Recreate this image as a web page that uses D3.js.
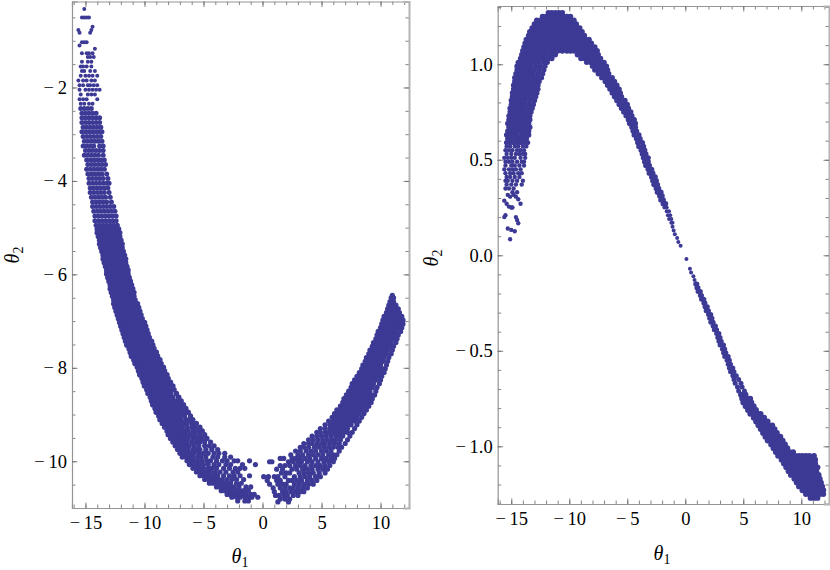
<!DOCTYPE html>
<html>
<head>
<meta charset="utf-8">
<script src="https://cdn.jsdelivr.net/npm/d3@7"></script>
<style>
  html, body { margin: 0; padding: 0; background: #fff; }
  text { font-family: "Liberation Serif", serif; fill: #000; }
</style>
</head>
<body>
<div id="chart"></div>
<script>
// Values. Each row is [theta2, theta1, theta1, ...]
var leftMajorX = [-15, -10, -5, 0, 5, 10];
var leftMajorY = [-2, -4, -6, -8, -10];
var rightMajorX = [-15, -10, -5, 0, 5, 10];
var rightMajorY = [1, 0.5, 0, -0.5, -1];

var leftTip = [
[-0.32,-15.1],[-0.5,-15.3,-15.1,-14.9,-14.7],[-0.7,-14.4],[-0.77,-15.6,-14.5],[-0.83,-15.5,-14.6],
[-1.03,-15.3,-15.1,-14.9],[-1.1,-15.5],[-1.17,-14.2],[-1.27,-15.3,-14.9,-14.7,-14.4],[-1.35,-14.8,-14.6,-14.3],
[-1.45,-15.3,-14.8,-14.5],[-1.55,-15.4,-15.2,-14.9,-14.5],[-1.65,-15.3,-15.1,-14.6,-14.2],[-1.75,-15.4,-15,-14.7,-14.4,-14],
[-1.85,-15.6,-15.2,-14.9,-14.5,-14.2],[-1.95,-15.5,-15.2,-14.8,-14.6,-14.3,-14],[-2.05,-15.5,-15,-14.7,-14.4,-14.1,-13.8],
[-2.15,-15.4,-14.8,-14.5,-14.2],[-2.25,-15.5,-15.2,-14.9,-14],[-2.35,-15.4,-15.1,-14.7,-14.4]
];
var leftUpper = [
[-2.45,-15.4,-15.1,-14.8,-14.5],[-2.55,-15.3,-15,-14.7,-14.4,-14.1],[-2.65,-15.3,-15,-14.7,-14.4,-14.1,-13.8],
[-2.75,-15.3,-15,-14.7,-14.4,-14.1,-13.8],[-2.85,-15.2,-14.9,-14.6,-14.3,-14,-13.7],[-2.95,-15.3,-15,-14.7,-14.4,-14.1,-13.8,-13.6],
[-3.05,-15.2,-14.9,-14.6,-14.3,-14,-13.7],[-3.15,-15.1,-14.8,-14.5,-14.2,-13.9,-13.6],[-3.25,-15.2,-14.9,-14.6,-14.3,-13.8,-13.5],
[-3.35,-15,-14.7,-14.4,-14.1,-13.8,-13.5],[-3.45,-15.1,-14.8,-14.5,-14.2,-13.9,-13.5],[-3.55,-14.9,-14.6,-14.3,-14,-13.7,-13.4],
[-3.65,-14.8,-14.5,-14.2,-13.9,-13.6,-13.3],[-3.75,-14.9,-14.6,-14.3,-14,-13.7,-13.4],[-3.85,-14.8,-14.5,-14.2,-13.9,-13.6,-13.2],
[-3.95,-14.7,-14.4,-14.1,-13.8,-13.5,-13.1],[-4.05,-14.7,-14.4,-14.1,-13.8,-13.5,-13.2,-13],[-4.15,-14.6,-14.3,-14,-13.7,-13.4,-13.1],
[-4.25,-14.6,-14.3,-14,-13.7,-13.4,-13],[-4.35,-14.5,-14.2,-13.9,-13.6,-13.3,-12.9],[-4.45,-14.4,-14.1,-13.8,-13.5,-13.2,-12.8],
[-4.55,-14.4,-14.1,-13.8,-13.5,-13.2,-12.9,-12.6],[-4.65,-14.3,-14,-13.7,-13.4,-13.1,-12.8,-12.5],[-4.75,-14.2,-13.9,-13.6,-13.3,-13,-12.7,-12.4],
[-4.85,-14.2,-13.9,-13.6,-13.3,-13,-12.7,-12.4],[-4.95,-14.1,-13.8,-13.5,-13.2,-12.9,-12.6,-12.3]
];
var leftMiddle = [
[-5.03,-14,-13.7,-13.4,-13.1,-12.8,-12.5,-12.2],
[-5.11,-14,-13.7,-13.4,-13.1,-12.8,-12.4,-12.1],[-5.19,-13.9,-13.6,-13.3,-13,-12.7,-12.4,-12.1],[-5.27,-13.8,-13.5,-13.2,-12.9,-12.6,-12.3,-12],
[-5.35,-13.8,-13.5,-13.2,-12.9,-12.6,-12.2,-11.9],[-5.43,-13.7,-13.4,-13.1,-12.8,-12.5,-12.2,-11.9],[-5.51,-13.6,-13.3,-13,-12.7,-12.4,-12.1,-11.8],
[-5.59,-13.5,-13.2,-12.9,-12.6,-12.3,-12,-11.7],[-5.67,-13.5,-13.2,-12.9,-12.6,-12.2,-11.9,-11.6],[-5.75,-13.4,-13.1,-12.8,-12.5,-12.2,-11.9,-11.6],
[-5.83,-13.3,-13,-12.7,-12.4,-12.1,-11.8,-11.5],[-5.91,-13.2,-12.9,-12.6,-12.3,-12,-11.7,-11.4],[-5.99,-13.2,-12.9,-12.6,-12.3,-12,-11.7,-11.4],
[-6.07,-13.1,-12.8,-12.5,-12.2,-11.9,-11.6,-11.3],[-6.15,-13,-12.7,-12.4,-12.1,-11.8,-11.5,-11.2],[-6.23,-12.9,-12.6,-12.3,-12,-11.7,-11.4,-11.1],
[-6.31,-12.9,-12.6,-12.3,-12,-11.7,-11.4,-11],[-6.39,-12.8,-12.5,-12.2,-11.9,-11.6,-11.3,-10.9],[-6.47,-12.7,-12.4,-12.1,-11.8,-11.5,-11.2,-10.9],
[-6.55,-12.6,-12.3,-12,-11.7,-11.4,-11.1,-10.8],[-6.63,-12.6,-12.3,-12,-11.7,-11.3,-11,-10.6],[-6.71,-12.5,-12.2,-11.9,-11.6,-11.3,-10.9,-10.5],
[-6.79,-12.4,-12.1,-11.8,-11.5,-11.2,-10.8,-10.4],[-6.87,-12.3,-12,-11.7,-11.4,-11.1,-10.7,-10.3],[-6.95,-12.2,-11.9,-11.6,-11.3,-11,-10.6,-10.2],
[-7.03,-12.1,-11.8,-11.5,-11.2,-10.9,-10.5,-10.1,-10],[-7.11,-12,-11.7,-11.4,-11.1,-10.8,-10.5,-10.2,-9.9],[-7.19,-11.9,-11.6,-11.3,-11,-10.7,-10.4,-10.1,-9.8],
[-7.27,-11.8,-11.5,-11.2,-10.9,-10.6,-10.3,-10,-9.7],[-7.35,-11.7,-11.4,-11.1,-10.8,-10.5,-10.2,-9.9,-9.6],[-7.43,-11.6,-11.3,-11,-10.7,-10.4,-10.1,-9.8,-9.4],
[-7.51,-11.5,-11.2,-10.9,-10.6,-10.3,-10,-9.7,-9.3],[-7.59,-11.3,-11,-10.7,-10.4,-10.1,-9.8,-9.5,-9.2],[-7.67,-11.2,-10.9,-10.6,-10.3,-10,-9.7,-9.4,-9],
[-7.75,-11.1,-10.8,-10.5,-10.2,-9.9,-9.6,-9.3,-8.9],[-7.83,-10.9,-10.6,-10.3,-10,-9.7,-9.4,-9.1,-8.7],[-7.91,-10.8,-10.5,-10.2,-9.9,-9.6,-9.3,-9,-8.6],
[-7.99,-10.6,-10.3,-10,-9.7,-9.4,-9.1,-8.8,-8.4],[-8.07,-10.5,-10.2,-9.9,-9.6,-9.3,-9,-8.6,-8.3],[-8.15,-10.4,-10.1,-9.8,-9.5,-9.2,-8.9,-8.5,-8.1],
[-8.23,-10.2,-9.9,-9.6,-9.3,-9,-8.7,-8.3,-8],[-8.31,-10.1,-9.8,-9.5,-9.2,-8.9,-8.6,-8.2,-7.8],[-8.39,-10,-9.7,-9.4,-9.1,-8.8,-8.4,-8,-7.6],
[-8.47,-9.8,-9.5,-9.2,-8.9,-8.6,-8.3,-7.9,-7.5],[-8.55,-9.7,-9.4,-9.1,-8.8,-8.5,-8.2,-7.8,-7.3],[-8.63,-9.5,-9.2,-8.9,-8.6,-8.3,-8,-7.6,-7.1],
[-8.71,-9.4,-9.1,-8.8,-8.5,-8.2,-7.9,-7.5,-7.2,-6.9],[-8.79,-9.3,-9,-8.7,-8.4,-8.1,-7.8,-7.4,-7,-6.7],[-8.87,-9.1,-8.8,-8.5,-8.2,-7.9,-7.6,-7.2,-6.9,-6.5],
[-8.95,-9,-8.7,-8.4,-8.1,-7.8,-7.5,-7.1,-6.7,-6.3]
];
var leftBottom = [
[-9.03,-8.8,-8.5,-8.2,-7.9,-7.6,-7.3,-7,-6.6,-6.1],[-9.11,-8.7,-8.4,-8.1,-7.8,-7.5,-7.2,-6.9,-6.5,-6.2,-5.9],[-9.19,-8.5,-8.2,-7.9,-7.6,-7.3,-7,-6.7,-6.4,-6,-5.6],
[-9.27,-8.3,-8,-7.7,-7.4,-7.1,-6.8,-6.4,-6,-5.7,-5.3],[-9.35,-8.1,-7.8,-7.5,-7.2,-6.9,-6.6,-6.3,-5.9,-5.5,-5.1],[-9.43,-8,-7.7,-7.4,-7.1,-6.8,-6.5,-6.1,-5.7,-5.3,-4.9],
[-9.51,-7.8,-7.5,-7.2,-6.9,-6.6,-6.3,-5.9,-5.5,-5.1,-4.7],[-9.59,-7.6,-7.3,-7,-6.7,-6.4,-6,-5.6,-5.3,-4.9,-4.4],[-9.67,-7.4,-7.1,-6.8,-6.5,-6.2,-5.8,-5.4,-4.9,-4.5,-4.1],
[-9.75,-7.2,-6.9,-6.6,-6.3,-5.9,-5.6,-5.3,-4.8,-4.3,-3.8],[-9.83,-7,-6.7,-6.4,-6.1,-5.8,-5.4,-5,-4.6,-4.1,-3.7,-3.2],[-9.91,-6.8,-6.5,-6.2,-5.9,-5.5,-5.2,-4.8,-4.2,-3.8,-3.2,-2.7],
[-9.99,-6.4,-6.1,-5.8,-5.5,-5.1,-4.7,-4.4,-3.9,-3.4,-3,-2.4,-2.1,-1.1],[-10.07,-6.2,-5.9,-5.6,-5.3,-5,-4.6,-4.1,-3.7,-3.1,-2.7,-1.7,-0.6],[-10.15,-5.9,-5.6,-5.3,-5,-4.6,-4.3,-3.9,-3.3,-2.8,-2.3,-1.9,-1.5],
[-10.23,-5.6,-5.3,-5,-4.7,-4.4,-4,-3.6,-3.1,-2.5,-2.1],[-10.31,-5.3,-5,-4.7,-4.4,-4.1,-3.8,-3.3,-2.8,-2.4,-1.9,-1.1],[-10.39,-4.9,-4.6,-4.3,-4,-3.7,-3.4,-3,-2.6,-2.2,-1.6],
[-10.47,-4.5,-4.2,-3.9,-3.6,-3.3,-3,-2.7,-2.2,-1.8],[-10.55,-3.9,-3.6,-3.3,-3,-2.7,-2.4,-2,-1.4,-1],[-10.63,-3.5,-3.2,-2.9,-2.6,-2.2,-1.9,-1.6,-1.2],
[-10.71,-3,-2.7,-2.4,-2.1,-1.7,-1.4,-1,-0.7],[-10.77,-2.6,-2.2,-1.9,-1.5,-1.1,-0.9,-0.4],[-10.85,-2.1,-1.5,-1.2]
];
var leftRightArm = [
[-6.45,11],[-6.5,10.9,11.1],[-6.58,10.8,11.1],[-6.66,10.7,11,11.3],[-6.74,10.6,10.9,11.2,11.5],[-6.82,10.5,10.8,11.1,11.4,11.6],[-6.9,10.3,10.6,10.9,11.2,11.5,11.8],
[-6.98,10.2,10.5,10.8,11.1,11.4,11.7,11.9],[-7.06,10.1,10.4,10.7,11,11.3,11.6,11.9],[-7.14,10,10.3,10.6,10.9,11.2,11.5,11.8],[-7.22,9.8,10.1,10.4,10.7,11,11.3,11.7],
[-7.3,9.7,10,10.3,10.6,10.9,11.2,11.5],[-7.38,9.6,9.9,10.2,10.5,10.8,11.1,11.4],[-7.46,9.4,9.7,10,10.3,10.6,10.9,11.3],[-7.54,9.3,9.6,9.9,10.2,10.5,10.8,11.1],
[-7.62,9.1,9.4,9.7,10,10.3,10.6,11],[-7.7,9,9.3,9.6,9.9,10.2,10.5,10.9],[-7.78,8.8,9.1,9.4,9.7,10,10.3,10.7],[-7.86,8.7,9,9.3,9.6,9.9,10.2,10.6],
[-7.94,8.5,8.8,9.1,9.4,9.7,10,10.5],[-8.02,8.4,8.7,9,9.3,9.6,9.9,10.2,10.4],[-8.1,8.2,8.5,8.8,9.1,9.4,9.7,10,10.3],[-8.18,8,8.3,8.6,8.9,9.2,9.5,9.8,10.1],
[-8.26,7.8,8.1,8.4,8.7,9,9.3,9.6,10],[-8.34,7.6,7.9,8.2,8.5,8.8,9.1,9.4,9.9],[-8.42,7.5,7.8,8.1,8.4,8.7,9,9.3,9.7],[-8.5,7.3,7.6,7.9,8.2,8.5,8.8,9.1,9.6],
[-8.58,7.1,7.4,7.7,8,8.3,8.6,8.9,9.2,9.5],[-8.66,6.9,7.2,7.5,7.8,8.1,8.4,8.7,9,9.3],[-8.74,6.8,7.1,7.4,7.7,8,8.3,8.6,8.9,9.2],[-8.82,6.6,6.9,7.2,7.5,7.8,8.1,8.4,8.7,9],
[-8.9,6.3,6.6,6.9,7.2,7.5,7.8,8.1,8.4,8.8],[-8.98,6.1,6.4,6.7,7,7.3,7.6,7.9,8.2,8.6],[-9.06,5.9,6.2,6.5,6.8,7.1,7.4,7.7,8,8.4],[-9.14,5.6,6,6.3,6.6,6.9,7.2,7.5,7.8,8.2],
[-9.22,5.3,5.7,6,6.3,6.6,6.9,7.2,7.5,8],[-9.3,4.9,5.3,5.7,6,6.3,6.6,6.9,7.2,7.8],[-9.38,4.6,4.9,5.3,5.6,6,6.3,6.6,6.9,7.2,7.6],[-9.46,4.2,4.6,5,5.4,5.8,6.2,6.5,6.8,7.4],
[-9.54,3.9,4.3,4.7,5.1,5.5,5.9,6.2,6.6,7.2],[-9.62,3.5,3.9,4.2,4.6,5,5.3,5.7,6.1,6.5,7],[-9.7,3.2,3.5,3.9,4.4,4.8,5.2,5.6,6,6.4,6.7],[-9.78,2.8,3.2,3.7,4.1,4.5,5,5.4,5.8,6.5],
[-9.86,2.4,3,3.4,3.9,4.3,4.7,5.1,5.6,6,6.3],[-9.94,1.5,1.8,2.5,2.8,3.2,3.6,4,4.5,5,5.4,5.8,6.1],[-10.01,0.6,0.8,2.2,2.6,3,3.3,3.8,4.2,4.7,5.2,5.6,6],[-10.09,1.5,1.9,2.3,2.8,3.2,3.6,4.1,4.5,4.9,5.3,5.7],
[-10.17,1.2,1.7,2.5,2.9,3.4,3.8,4.2,4.7,5.1,5.5],[-10.25,1.6,2,2.3,3.1,3.5,3.9,4.3,4.8,5.3],[-10.33,0.1,0.5,1,1.3,1.9,2.7,3.2,3.6,4,4.5,4.9],[-10.41,0.4,1.2,1.5,2.2,2.5,2.9,3.3,3.8,4.2,4.6],
[-10.49,0.6,1.3,1.7,2,2.7,3.1,3.5,3.9,4.3],[-10.57,0.9,1.5,1.9,2.3,2.6,3,3.4,3.8],[-10.65,1,1.7,2,2.4,2.8,3.2,3.5],[-10.73,1.1,1.4,1.8,2.1,2.6,3],[-10.81,1.5,1.9,2.3],[-10.87,1.3,2.2]
];

var rightRise = [
[0.084,-15.1],[0.126,-14.7],[0.133,-15],[0.14,-15.3],[0.168,-14.4],[0.185,-14.5],[0.2,-15.6,-14.6],[0.21,-15.5],[0.25,-15,-14.9],[0.255,-15.2],[0.27,-15.4,-14.2],
[0.286,-15.6],[0.293,-14.4],[0.307,-15.1,-14.6],[0.316,-15.3,-14.8],[0.33,-14.9,-14.5],[0.35,-15.5,-15.2,-14.8],[0.37,-15.4,-15,-14.6,-14.1],[0.39,-15.5,-15.3,-14.9,-14.5,-14],
[0.41,-15.4,-15.1,-14.7,-14.3],[0.43,-15.5,-15.1,-14.8,-14.4,-14.1],[0.45,-15.6,-15.2,-14.9,-14.6,-14.2],[0.47,-15.5,-15,-14.7,-14.3,-13.9],[0.49,-15.5,-15.2,-14.9,-14.5,-14.1,-13.9],
[0.51,-15.6,-15.3,-15,-14.7,-14.2,-13.8],[0.53,-15.4,-15,-14.6,-14.3,-14,-13.8],[0.55,-15.5,-15.2,-14.9,-14.5,-14.2,-13.9],[0.57,-15.4,-15.1,-14.7,-14.4,-14,-13.7]
];
var rightLimb = [
[0.59,-15.4,-15.1,-14.8,-14.5,-14.2,-13.9,-13.6],[0.61,-15.3,-15,-14.6,-14.3,-14,-13.7],[0.63,-15.4,-15.1,-14.8,-14.5,-14.1,-13.8,-13.5],[0.65,-15.3,-15,-14.7,-14.4,-14.1,-13.8,-13.5],
[0.67,-15.2,-14.9,-14.6,-14.3,-13.9,-13.6,-13.4],[0.69,-15.3,-15,-14.7,-14.4,-14.1,-13.8,-13.5],[0.71,-15.2,-14.9,-14.6,-14.3,-14,-13.7,-13.4],[0.73,-15.2,-14.9,-14.6,-14.3,-14,-13.7,-13.4],
[0.75,-15.1,-14.8,-14.5,-14.2,-13.9,-13.6,-13.3],[0.77,-15.1,-14.8,-14.5,-14.2,-13.9,-13.5,-13.2],[0.79,-15,-14.7,-14.4,-14.1,-13.8,-13.5,-13.1],[0.81,-15,-14.7,-14.4,-14.1,-13.8,-13.4,-13],
[0.83,-14.9,-14.6,-14.3,-14,-13.7,-13.4,-13.1,-12.9],[0.85,-14.9,-14.6,-14.3,-14,-13.7,-13.4,-13.1,-12.8],[0.87,-14.8,-14.5,-14.2,-13.9,-13.6,-13.3,-13,-12.7],[0.89,-14.8,-14.5,-14.2,-13.9,-13.6,-13.3,-13,-12.7],
[0.91,-14.7,-14.4,-14.1,-13.8,-13.5,-13.2,-12.9,-12.6],[0.93,-14.7,-14.4,-14.1,-13.8,-13.5,-13.1,-12.8,-12.4],[0.95,-14.6,-14.3,-14,-13.7,-13.4,-13.1,-12.7,-12.3],[0.97,-14.5,-14.2,-13.9,-13.6,-13.3,-13,-12.6,-12.2],
[0.99,-14.5,-14.2,-13.9,-13.6,-13.3,-12.9,-12.5,-12.1],[1.01,-14.4,-14.1,-13.8,-13.5,-13.2,-12.9,-12.6,-12.2,-11.9],[1.03,-14.2,-13.9,-13.6,-13.3,-13,-12.7,-12.4,-12.1,-11.8,-11.5],[1.05,-14.1,-13.8,-13.5,-13.2,-12.9,-12.6,-12.3,-12,-11.6,-11.2]
];
var rightCap = [
[1.07,-14,-13.7,-13.4,-13.1,-12.8,-12.5,-12.2,-11.9,-11.6,-11.3,-11,-10.6,-10.2,-9.9,-9.6,-9.3,-9,-8.7,-8.4,-8.1,-7.8,-7.6],
[1.09,-13.9,-13.6,-13.3,-13,-12.7,-12.4,-12.1,-11.8,-11.5,-11.2,-10.9,-10.6,-10.3,-10,-9.7,-9.4,-9.1,-8.8,-8.5,-8.2,-7.8],
[1.11,-13.8,-13.5,-13.2,-12.9,-12.6,-12.3,-12,-11.7,-11.4,-11.1,-10.8,-10.5,-10.2,-9.9,-9.6,-9.3,-9,-8.7,-8.4,-8.1],
[1.13,-13.7,-13.4,-13.1,-12.8,-12.5,-12.2,-11.9,-11.6,-11.3,-11,-10.7,-10.4,-10.1,-9.8,-9.5,-9.2,-8.9,-8.6,-8.3],
[1.15,-13.5,-13.2,-12.9,-12.6,-12.3,-12,-11.7,-11.4,-11.1,-10.8,-10.5,-10.2,-9.9,-9.6,-9.3,-9,-8.7],
[1.17,-13.4,-13.1,-12.8,-12.5,-12.2,-11.9,-11.6,-11.3,-11,-10.7,-10.4,-10.1,-9.8,-9.5,-9.2,-8.9],
[1.19,-13.2,-12.9,-12.6,-12.3,-12,-11.7,-11.4,-11.1,-10.8,-10.5,-10.2,-9.9,-9.6,-9.3,-9.1],
[1.21,-13,-12.7,-12.4,-12.1,-11.8,-11.5,-11.2,-10.9,-10.6,-10.3,-10,-9.7,-9.4],
[1.23,-12.8,-12.5,-12.2,-11.9,-11.6,-11.3,-11,-10.7,-10.4,-10.1,-9.8,-9.6],
[1.25,-12.3,-12,-11.7,-11.4,-11.1,-10.8,-10.5,-10.2,-9.9],
[1.27,-11.8,-11.5,-11.2,-10.9,-10.6]
];
var rightBranch = [
[1.05,-9.3,-9,-8.7,-8.4,-8.1,-7.8,-7.5],[1.03,-9,-8.7,-8.4,-8.1,-7.8,-7.5,-7.3],[1.01,-8.5,-8.2,-7.9,-7.6,-7.3,-7],[0.99,-8,-7.7,-7.4,-7.1,-6.8],[0.97,-7.8,-7.5,-7.2,-6.9,-6.7],
[0.95,-7.5,-7.2,-6.9,-6.6],[0.93,-7.2,-6.9,-6.6,-6.3],[0.91,-6.9,-6.6,-6.3,-6.1],[0.89,-6.7,-6.4,-6.1,-5.9],[0.87,-6.5,-6.2,-5.9,-5.7],[0.85,-6.3,-6,-5.8,-5.6],[0.83,-6.1,-5.8,-5.5],
[0.81,-5.9,-5.6,-5.2],[0.79,-5.7,-5.4,-5],[0.77,-5.5,-5.2,-4.9],[0.75,-5.3,-5,-4.7],[0.73,-5.1,-4.8,-4.6],[0.71,-4.9,-4.7,-4.4],[0.69,-4.8,-4.5,-4.3],[0.67,-4.6,-4.3],[0.65,-4.5,-4.2],[0.63,-4.4,-4],
[0.61,-4.2,-3.9],[0.59,-4.1,-3.7],[0.57,-4,-3.6],[0.55,-3.8,-3.5],[0.53,-3.7,-3.4],[0.51,-3.6,-3.2],[0.49,-3.5,-3.2],[0.47,-3.4,-3.1],[0.45,-3.2,-2.9],[0.43,-3.1,-2.8],[0.41,-2.9,-2.6],[0.39,-2.8,-2.5],
[0.37,-2.7,-2.4],[0.35,-2.5,-2.3],[0.33,-2.4,-2.1],[0.31,-2.2,-2],[0.29,-2.1,-1.9],[0.27,-1.9,-1.7]
];
var rightNeck = [
[0.25,-1.8,-1.6],[0.23,-1.6,-1.4],[0.21,-1.5,-1.3],[0.19,-1.4,-1.2],[0.17,-1.2,-1.1],[0.15,-1.1],[0.13,-1],
[0.11,-0.9],[0.09,-0.7],[0.07,-0.6],[0.05,-0.4],[-0.02,0.1],
[-0.07,0.4],[-0.09,0.5],[-0.11,0.7],[-0.13,0.8]
];
var rightStrip = [
[-0.15,0.9,1],[-0.17,1,1.1],[-0.19,1.1,1.3],[-0.21,1.3,1.4],[-0.23,1.4,1.6],[-0.25,1.6,1.7],[-0.27,1.7,1.9],[-0.29,1.8,2],[-0.31,2,2.2],
[-0.33,2.1,2.3],[-0.35,2.2,2.4],[-0.37,2.4,2.6],[-0.39,2.5,2.7],[-0.41,2.7,2.9],[-0.43,2.8,3],[-0.45,2.9,3.1],[-0.47,3,3.3],[-0.49,3.2,3.4],[-0.51,3.3,3.5],[-0.53,3.4,3.7],[-0.55,3.6,3.8],
[-0.57,3.7,3.9],[-0.59,3.8,4.1],[-0.61,3.9,4.2],[-0.63,4.1,4.4],[-0.65,4.2,4.6],[-0.67,4.3,4.8],[-0.69,4.5,4.9],[-0.71,4.6,5.1]
];
var rightFoot = [
[-0.73,4.8,5.2],[-0.75,4.9,5.3,5.6],[-0.77,5,5.4,5.7],[-0.79,5.2,5.5,5.9],[-0.81,5.4,5.7,6.1],[-0.83,5.6,5.9,6.3,6.5],[-0.85,5.9,6.2,6.5,6.8],[-0.87,6.1,6.4,6.7,7.1],
[-0.89,6.3,6.6,6.9,7.2,7.5],[-0.91,6.5,6.8,7.1,7.4,7.7],[-0.93,6.7,7,7.3,7.6,7.9],[-0.95,6.9,7.2,7.5,7.8,8.2],[-0.97,7.1,7.4,7.7,8,8.4],[-0.99,7.4,7.7,8,8.3,8.6],
[-1.01,7.6,7.9,8.2,8.5,8.8],[-1.03,7.8,8.1,8.4,8.7,9,9.3],[-1.05,8,8.3,8.6,8.9,9.2,9.5,9.8,10.1,10.4,10.7,11.1],[-1.07,8.3,8.6,8.9,9.2,9.5,9.8,10.1,10.4,10.7,11,11.2],
[-1.09,8.5,8.8,9.1,9.4,9.7,10,10.3,10.6,10.9,11.2],[-1.11,8.7,9,9.3,9.6,9.9,10.2,10.5,10.8,11.1,11.4],[-1.13,8.9,9.2,9.5,9.8,10.1,10.4,10.7,11,11.3],[-1.15,9.1,9.4,9.7,10,10.3,10.6,10.9,11.2,11.5],
[-1.17,9.4,9.7,10,10.3,10.6,10.9,11.2,11.6],[-1.19,9.6,9.9,10.2,10.5,10.8,11.1,11.4,11.7],[-1.21,9.8,10.1,10.4,10.7,11,11.3,11.6,11.8],[-1.23,10.1,10.4,10.7,11,11.3,11.6,11.9],
[-1.25,10.4,10.7,11,11.3,11.6,11.9],[-1.27,10.8,11.1,11.4]
];

function toPoints(rows) {
  return rows.flatMap(function(r) {
    return r.slice(1).map(function(t) { return [t, r[0]]; });
  });
}

var width = 830,
    height = 570,
    dotColor = '#3d3a96';

var svg = d3.select('#chart')
  .append('svg')
  .attr('width', width)
  .attr('height', height)
  .style('display', 'block');

function minus(s) {
  return s.replace('\u2212', '\u2212\u2009');
}

function drawPanel(p) {
  var x = d3.scaleLinear().domain(p.xDomain).range(p.xRange);
  var y = d3.scaleLinear().domain(p.yDomain).range(p.yRange);
  var g = svg.append('g');

  // the dense parts get a fatter dot so the rows close up
  p.groups.forEach(function(grp) {
    g.append('g').selectAll('circle')
      .data(toPoints(grp.rows))
      .enter()
      .append('circle')
      .attr('cx', function(d) { return x(d[0]); })
      .attr('cy', function(d) { return y(d[1]); })
      .attr('r', grp.r)
      .attr('fill', dotColor);
  });

  var bottom = p.yRange[0], top = p.yRange[1], left = p.xRange[0], right = p.xRange[1];
  var sides = [
    { gen: d3.axisBottom(x), at: [0, bottom], vals: p.xMajor, minor: p.xMinor, fmt: d3.format('d') },
    { gen: d3.axisTop(x), at: [0, top], vals: p.xMajor, minor: p.xMinor },
    { gen: d3.axisLeft(y), at: [left, 0], vals: p.yMajor, minor: p.yMinor, fmt: p.yFormat },
    { gen: d3.axisRight(y), at: [right, 0], vals: p.yMajor, minor: p.yMinor }
  ];

  sides.forEach(function(s, i) {
    var minorAxis = s.gen.tickSizeOuter(0).tickSize(-3.5).tickValues(s.minor).tickFormat('');
    var m = g.append('g').attr('transform', 'translate(' + s.at + ')').call(minorAxis);
    var majorAxis = s.gen.tickSize(-5.5).tickValues(s.vals)
      .tickFormat(s.fmt ? function(v) { return minus(s.fmt(v)); } : '')
      .tickPadding(i == 0 ? 8 : 5);
    var a = g.append('g').attr('transform', 'translate(' + s.at + ')').call(majorAxis);
    a.selectAll('text').attr('font-size', 18.5).attr('font-family', '"Liberation Serif", serif').attr('fill', '#000');
    m.selectAll('.tick line').attr('stroke', '#666').attr('stroke-width', 0.8);
    a.selectAll('.tick line').attr('stroke', '#666').attr('stroke-width', 0.8);
    m.select('.domain').attr('stroke', 'none');
    a.select('.domain').attr('stroke', i == 3 ? '#b4b4b4' : '#949494').attr('stroke-width', i == 3 ? 2 : 1.2);
  });

  g.append('text')
    .attr('x', p.xLabel[0])
    .attr('y', p.xLabel[1])
    .attr('text-anchor', 'middle')
    .call(axisTitle, '1');

  g.append('text')
    .attr('transform', 'translate(' + p.yLabel + ') rotate(-90)')
    .attr('text-anchor', 'middle')
    .call(axisTitle, '2');
}

function axisTitle(sel, sub) {
  sel.append('tspan').attr('font-style', 'italic').attr('font-size', 20).text('\u03b8');
  sel.append('tspan').attr('font-size', 14).attr('dy', 4).text(sub);
}

drawPanel({
  groups: [
    { rows: leftTip, r: 2 },
    { rows: leftUpper, r: 2.5 },
    { rows: leftMiddle, r: 2.8 },
    { rows: leftBottom, r: 2.6 },
    { rows: leftRightArm, r: 2.6 }
  ],
  xDomain: [-16.14, 12.41], xRange: [72, 409],
  yDomain: [-11, -0.16], yRange: [508, 1.5],
  xMajor: leftMajorX, yMajor: leftMajorY,
  xMinor: d3.range(-16, 13, 1), yMinor: d3.range(-10.5, -0.2, 0.5),
  yFormat: d3.format('d'),
  xLabel: [240, 563], yLabel: [19, 255]
});

drawPanel({
  groups: [
    { rows: rightRise, r: 2.2 },
    { rows: rightLimb, r: 2.7 },
    { rows: rightCap, r: 2.8 },
    { rows: rightBranch, r: 2.7 },
    { rows: rightNeck, r: 2 },
    { rows: rightStrip, r: 2.5 },
    { rows: rightFoot, r: 2.9 }
  ],
  xDomain: [-16.17, 12.39], xRange: [497.7, 829],
  yDomain: [-1.302, 1.305], yRange: [504, 6],
  xMajor: rightMajorX, yMajor: rightMajorY,
  xMinor: d3.range(-16, 13, 1), yMinor: d3.range(-1.3, 1.31, 0.1),
  yFormat: d3.format('.1f'),
  xLabel: [662, 560], yLabel: [438, 258]
});
</script>
</body>
</html>
